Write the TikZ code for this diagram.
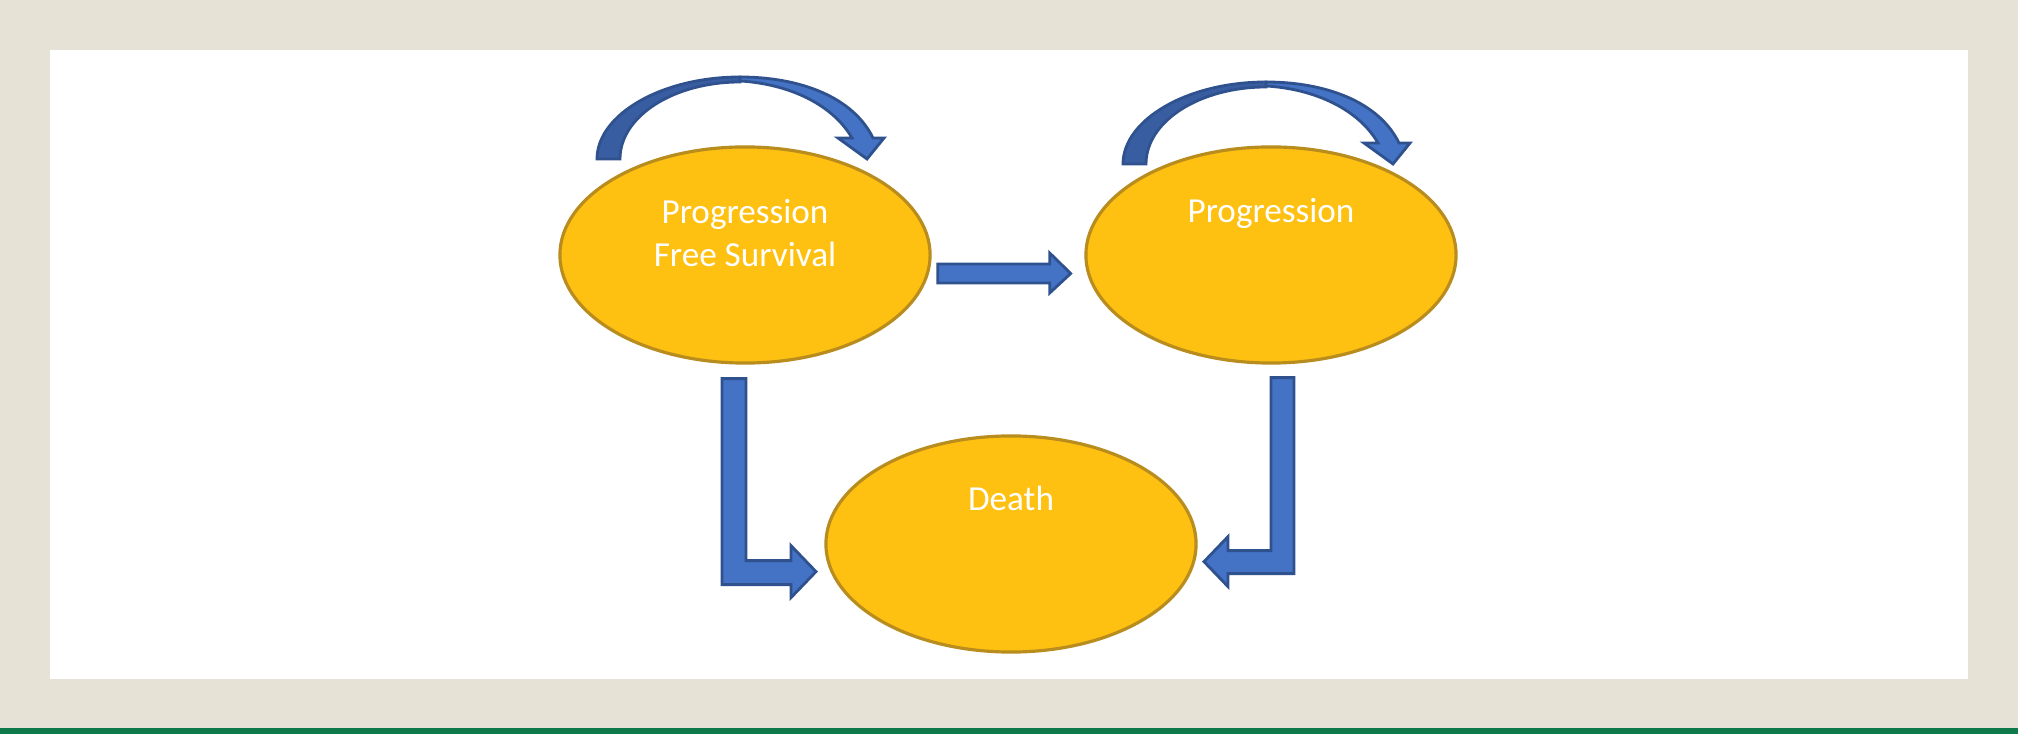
\documentclass[tikz,border=0pt]{standalone}
\usepackage{fontspec}
\setmainfont{Carlito}
\usetikzlibrary{calc,shapes.geometric}
\definecolor{fond}{RGB}{230,226,214}
\definecolor{vert}{RGB}{14,122,74}
\definecolor{jaune}{RGB}{254,192,17}
\definecolor{jauneb}{RGB}{185,140,30}
\definecolor{bleu}{RGB}{68,114,196}
\definecolor{bleuf}{RGB}{47,82,143}
\definecolor{bleus}{RGB}{57,93,161}
\tikzset{etat/.style={ellipse,draw=jauneb,line width=0.9pt,fill=jaune,minimum width=3.7cm,minimum height=2.16cm,inner sep=0pt},fleche/.style={draw=bleuf,line width=0.8pt,fill=bleu,line join=miter},libelle/.style={text=white,font=\fontsize{10pt}{12.5pt}\selectfont,align=center,inner sep=0pt}}
\begin{document}
\begin{tikzpicture}[x=0.01cm,y=-0.01cm]
\useasboundingbox (0,0) rectangle (2018,734);
% cadre
\fill[fond] (0,0) rectangle (2018,728);
\fill[white] (50,50) rectangle (1968,679);
\fill[vert] (0,728) rectangle (2018,734);
% etats
\node[etat] (pfs) at (745,255) {};
\node[etat] (prog) at (1271,255) {};
\node[etat] (death) at (1011,544) {};
\node[libelle,anchor=base] (tpfs) at ([yshift=-0.12cm]pfs.center) {Progression\\Free Survival};
\node[libelle,anchor=base] (tprog) at ([yshift=0.32cm]prog.center) {Progression};
\node[libelle,anchor=base] (tdeath) at ([yshift=0.33cm]death.center) {Death};
% transitions
\draw[fleche] ($(pfs.east)+(6,9)$) -- ++(112,0) -- ++(0,-11) -- ++(21,20.5) -- ++(-21,19.5) -- ++(0,-10) -- ++(-112,0) -- cycle;
\draw[fleche] ($(pfs.south)+(-23,14)$) -- ++(24,0) -- ++(0,182) -- ++(45,0) -- ++(0,-15) -- ++(25,26) -- ++(-25,26) -- ++(0,-13) -- ++(-69,0) -- cycle;
\draw[fleche] ($(prog.south)+(0,13)$) -- ++(23,0) -- ++(0,196) -- ++(-66,0) -- ++(0,13) -- ++(-24,-25) -- ++(24,-25) -- ++(0,14) -- ++(43,0) -- cycle;
% boucles
\foreach \n/\d in {pfs/0,prog/5}{
\begin{scope}[shift={($(\n.center)+(0,\d)$)}]
\draw[fleche,fill=bleus] (-148,-96) .. controls (-148,-140) and (-84,-178) .. (-5,-178) -- (-5,-173) .. controls (-71,-173) and (-125,-139) .. (-125,-96) -- cycle;
\draw[fleche] (-5,-178) .. controls (55,-178) and (108,-158) .. (128,-117) -- (139,-117) -- (122,-96) -- (93,-117) -- (107,-117) .. controls (88,-150) and (45,-171) .. (-5,-174) -- cycle;
\end{scope}
}
\end{tikzpicture}
\end{document}
